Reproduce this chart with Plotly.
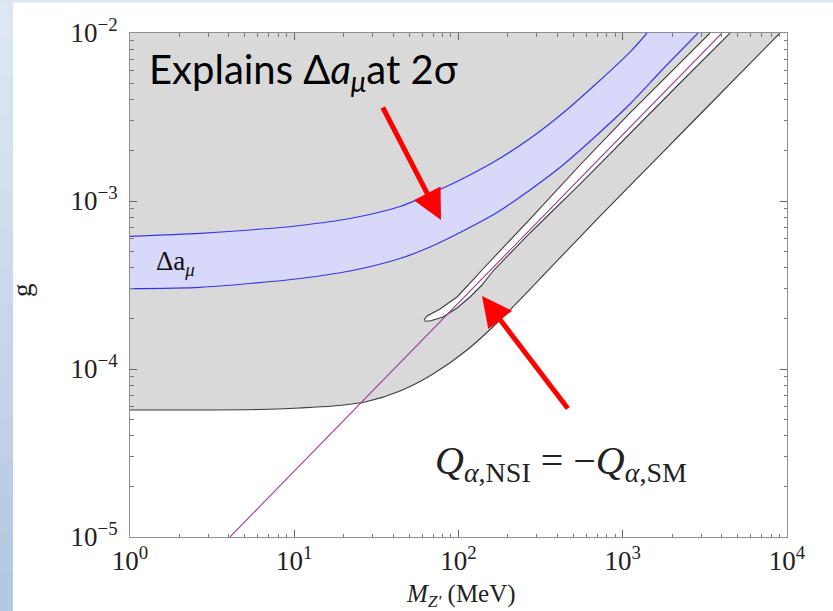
import plotly.graph_objects as go

# ---------------- data ----------------
# lower boundary of the grey excluded region
excl_M = [1, 2.668, 6.017, 10.84, 17.21, 27.73, 44.05, 69.95, 112.7, 178.9, 284.1, 727, 1686, 3910, 9066]
excl_g = [5.70e-5, 5.70e-5, 5.74e-5, 5.86e-5, 6.02e-5, 6.41e-5, 7.40e-5, 9.34e-5, 1.297e-4, 1.957e-4,
          3.119e-4, 8.14e-4, 1.878e-3, 4.334e-3, 1.0e-2]

# Delta a_mu band (upper and lower edges)
band_up_M = [1, 2.668, 5.378, 10.84, 21.85, 44.05, 67.07, 106.5, 171.6, 272.4, 432.7, 696.9, 1107, 1405]
band_up_g = [6.165e-4, 6.42e-4, 6.72e-4, 7.15e-4, 7.865e-4, 9.27e-4, 1.101e-3, 1.361e-3, 1.754e-3,
             2.355e-3, 3.341e-3, 5.04e-3, 7.70e-3, 1.0e-2]
band_lo_M = [1, 2.668, 5.378, 10.84, 21.85, 44.05, 67.07, 106.5, 171.6, 272.4, 432.7, 696.9, 1107, 1758, 2872]
band_lo_g = [3.006e-4, 3.064e-4, 3.228e-4, 3.457e-4, 3.831e-4, 4.547e-4, 5.323e-4, 6.63e-4, 8.54e-4,
             1.163e-3, 1.638e-3, 2.471e-3, 3.779e-3, 6.106e-3, 1.0e-2]

# allowed white sliver (Q_NSI = -Q_SM)
sliver_up_M = [61.66, 64.31, 77.17, 97.93, 122.5, 139.0, 272.4, 549.3, 1107, 2232, 3398]
sliver_up_g = [1.957e-4, 2.068e-4, 2.276e-4, 2.683e-4, 3.387e-4, 3.884e-4, 7.81e-4, 1.638e-3,
               3.341e-3, 6.63e-3, 1.0e-2]
sliver_lo_M = [61.66, 67.07, 80.47, 97.93, 117.5, 139.0, 162.2, 272.4, 549.3, 1107, 2232, 4498]
sliver_lo_g = [1.930e-4, 1.930e-4, 2.040e-4, 2.307e-4, 2.683e-4, 3.162e-4, 3.831e-4, 6.45e-4,
               1.262e-3, 2.54e-3, 5.04e-3, 1.0e-2]

# Q_NSI = -Q_SM line
qline_M = [4.06, 4020]
qline_g = [1.0e-5, 1.0e-2]

# axis ticks
x_tickvals = [1, 10, 100, 1000, 10000]
x_ticktext = ["10<sup>0</sup>", "10<sup>1</sup>", "10<sup>2</sup>", "10<sup>3</sup>", "10<sup>4</sup>"]
y_tickvals = [1e-5, 1e-4, 1e-3, 1e-2]
y_ticktext = ["10<sup>−5</sup>", "10<sup>−4</sup>", "10<sup>−3</sup>", "10<sup>−2</sup>"]

# ---------------- styling ----------------
GREY = "#d9d9d9"
BAND = "#d8d8fb"
BLUE = "#3535ea"
EDGE = "#3a3a3a"
PURPLE = "#9b3c9b"
SERIF = "Liberation Serif, Times New Roman, serif"

fig = go.Figure()

# grey excluded region: boundary + top edge of the frame
fig.add_trace(go.Scatter(
    x=excl_M + [excl_M[-1], excl_M[0]],
    y=excl_g + [max(excl_g), max(excl_g)],
    fill="toself", fillcolor=GREY, mode="none", hoverinfo="skip", showlegend=False))

# blue band
fig.add_trace(go.Scatter(
    x=band_up_M + band_lo_M[::-1] + [band_up_M[0]],
    y=band_up_g + band_lo_g[::-1] + [band_up_g[0]],
    fill="toself", fillcolor=BAND, mode="none", hoverinfo="skip", showlegend=False))
for mx, gy in [(band_up_M, band_up_g), (band_lo_M, band_lo_g)]:
    fig.add_trace(go.Scatter(x=mx, y=gy, mode="lines",
                             line=dict(color=BLUE, width=1.2, shape="spline", smoothing=0.8),
                             hoverinfo="skip", showlegend=False))

# white sliver
fig.add_trace(go.Scatter(
    x=sliver_up_M + sliver_lo_M[::-1],
    y=sliver_up_g + sliver_lo_g[::-1],
    fill="toself", fillcolor="white", mode="none", hoverinfo="skip", showlegend=False))
for mx, gy in [(sliver_up_M, sliver_up_g), (sliver_lo_M, sliver_lo_g)]:
    fig.add_trace(go.Scatter(x=mx, y=gy, mode="lines", line=dict(color=EDGE, width=1.1),
                             hoverinfo="skip", showlegend=False))

# excluded region boundary line
fig.add_trace(go.Scatter(x=excl_M, y=excl_g, mode="lines",
                         line=dict(color=EDGE, width=1.1, shape="spline", smoothing=0.8),
                         hoverinfo="skip", showlegend=False))

# purple line
fig.add_trace(go.Scatter(x=qline_M, y=qline_g, mode="lines", line=dict(color=PURPLE, width=1.1),
                         hoverinfo="skip", showlegend=False))

axis_common = dict(
    type="log", showgrid=False, zeroline=False,
    showline=True, linecolor="#8f8f8f", linewidth=1, mirror="ticks",
    ticks="inside", ticklen=7, tickcolor="#666", tickwidth=1,
    tickfont=dict(family=SERIF, size=27, color="#222"),
    minor=dict(ticks="inside", ticklen=3.5, tickcolor="#777", dtick="D1", showgrid=False),
)
fig.update_xaxes(range=[0, 4], tickmode="array", tickvals=x_tickvals, ticktext=x_ticktext,
                 ticklabelstandoff=0, **axis_common)
fig.update_yaxes(range=[-5, -2], tickmode="array", tickvals=y_tickvals, ticktext=y_ticktext,
                 ticklabelstandoff=6, **axis_common)

# slide decoration: gradient strip on the left, thin strip on top
shapes = []
top_c = (0xdd, 0xe7, 0xf3)
bot_c = (0xb4, 0xc8, 0xe2)
nb = 16
y0p, y1p = -74 / 504, 537 / 504
for i in range(nb):
    t = i / (nb - 1)
    c = tuple(int(round(top_c[k] + (bot_c[k] - top_c[k]) * t)) for k in range(3))
    ya = y1p - (y1p - y0p) * i / nb
    yb = y1p - (y1p - y0p) * (i + 1) / nb
    shapes.append(dict(type="rect", xref="paper", yref="paper", x0=-130 / 657, x1=(13 - 130) / 657,
                       y0=yb - 0.002, y1=ya, fillcolor="rgb(%d,%d,%d)" % c, line=dict(width=0), layer="above"))
shapes.append(dict(type="rect", xref="paper", yref="paper", x0=-130 / 657, x1=(833 - 130) / 657,
                   y0=(537 - 2.5) / 504, y1=y1p, fillcolor="#dce6f2", line=dict(width=0), layer="above"))

annotations = [
    dict(text="Explains Δ<i>a<sub>μ</sub></i>at 2σ", xref="paper", yref="paper",
         x=(147 - 130) / 657, y=(537 - 72) / 504, xanchor="left", yanchor="middle", showarrow=False,
         font=dict(family="Lato, Open Sans, sans-serif", size=40, color="black")),
    dict(text="Δa<sub><i>μ</i></sub>", xref="paper", yref="paper",
         x=(154 - 130) / 657, y=(537 - 263) / 504, xanchor="left", yanchor="middle", showarrow=False,
         font=dict(family=SERIF, size=27, color="#111")),
    dict(text="<i>Q</i><sub><i>α</i>,NSI</sub> = −<i>Q</i><sub><i>α</i>,SM</sub>", xref="paper", yref="paper",
         x=(433 - 130) / 657, y=(537 - 463) / 504, xanchor="left", yanchor="middle", showarrow=False,
         font=dict(family=SERIF, size=40, color="#222")),
    dict(text="<i>M</i><sub><i>Z'</i></sub> (MeV)", xref="paper", yref="paper",
         x=(461 - 130) / 657, y=(537 - 595) / 504, xanchor="center", yanchor="middle", showarrow=False,
         font=dict(family=SERIF, size=25, color="#222")),
    dict(text="g", xref="paper", yref="paper", textangle=-90,
         x=(22 - 130) / 657, y=(537 - 290) / 504, xanchor="center", yanchor="middle", showarrow=False,
         font=dict(family=SERIF, size=27, color="#222")),
    # red arrows
    dict(text="", xref="paper", yref="paper", x=(441 - 130) / 657, y=(537 - 220) / 504,
         ax=-59, ay=-114, showarrow=True, arrowhead=2, arrowsize=1.2, arrowwidth=5, arrowcolor="#ff0000",
         standoff=0),
    dict(text="", xref="paper", yref="paper", x=(482 - 130) / 657, y=(537 - 296) / 504,
         ax=87, ay=114, showarrow=True, arrowhead=2, arrowsize=1.2, arrowwidth=5, arrowcolor="#ff0000",
         standoff=0),
]

fig.update_layout(
    width=833, height=611,
    margin=dict(l=130, r=46, t=33, b=74),
    paper_bgcolor="white", plot_bgcolor="white",
    showlegend=False,
    shapes=shapes, annotations=annotations,
)

fig.write_html("out.html")
